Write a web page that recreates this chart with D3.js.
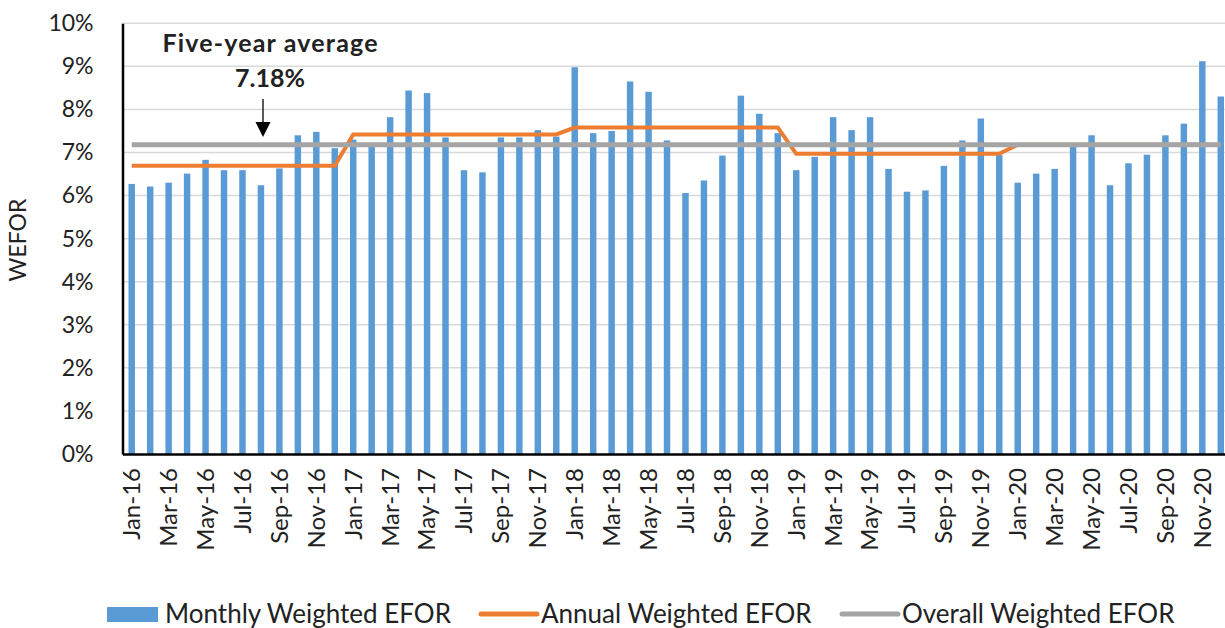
<!DOCTYPE html>
<html>
<head>
<meta charset="utf-8">
<style>
body { margin: 0; background: #fff; overflow: hidden; }
text { font-family: Lato, "Noto Sans", sans-serif; fill: #222; }
</style>
</head>
<body>
<script src="https://d3js.org/d3.v7.min.js"></script>
<script>

// months Jan-16 .. Dec-20
var monthNames = ["Jan","Feb","Mar","Apr","May","Jun","Jul","Aug","Sep","Oct","Nov","Dec"];
var years = ["16","17","18","19","20"];
var months = [];
years.forEach(y => monthNames.forEach(m => months.push(m + "-" + y)));

// monthly weighted EFOR (%)
var monthly = [
	6.27, 6.21, 6.30, 6.51, 6.83, 6.59, 6.59, 6.24, 6.63, 7.40, 7.48, 7.10,
	7.30, 7.13, 7.82, 8.44, 8.38, 7.35, 6.59, 6.54, 7.35, 7.35, 7.52, 7.37,
	8.98, 7.45, 7.50, 8.65, 8.41, 7.28, 6.06, 6.35, 6.93, 8.32, 7.90, 7.45,
	6.59, 6.90, 7.82, 7.52, 7.82, 6.62, 6.09, 6.12, 6.69, 7.28, 7.79, 6.94,
	6.30, 6.51, 6.62, 7.13, 7.40, 6.24, 6.75, 6.95, 7.40, 7.67, 9.12, 8.30
];

// annual weighted EFOR (%), one value per year
var annual = [6.69, 7.42, 7.58, 6.97, 7.18];

// overall five-year weighted EFOR (%)
var overall = 7.18;

var yTicks = [0,1,2,3,4,5,6,7,8,9,10];

var data = months.map((m, i) => ({
	month: m,
	monthly: monthly[i],
	annual: annual[Math.floor(i / 12)],
	overall: overall
}));

var W = 1225, H = 628;
var margin = { top: 23.3, left: 122.5, bottom: 174, right: -5 };
var width = W - margin.left - margin.right,
	height = H - margin.top - margin.bottom;

var svg = d3.select("body").append("svg")
	.attr("width", W)
	.attr("height", H);

var g = svg.append("g")
	.attr("transform", "translate(" + margin.left + "," + margin.top + ")");

var x = d3.scaleBand()
	.domain(months)
	.range([0, width])
	.paddingInner(0.65)
	.paddingOuter(0.325);

var y = d3.scaleLinear()
	.domain([0, 10])
	.range([height, 0]);

// gridlines
g.append("g").selectAll("line")
	.data(yTicks.filter(d => d > 0))
  .enter().append("line")
	.attr("x1", 0)
	.attr("x2", width)
	.attr("y1", d => y(d))
	.attr("y2", d => y(d))
	.attr("stroke", "#d9d9d9")
	.attr("stroke-width", 1.5);

// bars
g.append("g").selectAll("rect")
	.data(data)
  .enter().append("rect")
	.attr("x", d => x(d.month))
	.attr("y", d => y(d.monthly))
	.attr("width", x.bandwidth())
	.attr("height", d => height - y(d.monthly))
	.attr("fill", "#5b9bd5");

var cx = d => x(d.month) + x.bandwidth() / 2;

g.append("path")
	.datum(data)
	.attr("fill", "none")
	.attr("stroke", "#ed7d31")
	.attr("stroke-width", 4)
	.attr("d", d3.line().x(cx).y(d => y(d.annual)));

g.append("path")
	.datum(data)
	.attr("fill", "none")
	.attr("stroke", "#a5a5a5")
	.attr("stroke-width", 5)
	.attr("d", d3.line().x(cx).y(d => y(d.overall)));

// y axis
var yAxis = g.append("g")
	.call(d3.axisLeft(y).tickValues(yTicks).tickFormat(d => d + "%").tickSize(0).tickPadding(29));
yAxis.select(".domain").attr("stroke", "#000").attr("stroke-width", 2.5);
yAxis.selectAll("text").attr("font-size", 23).style("font-family", "Lato").attr("fill", "#222");

// x axis
var xAxis = g.append("g")
	.attr("transform", "translate(0," + height + ")")
	.call(d3.axisBottom(x).tickValues(months.filter((m, i) => i % 2 == 0)).tickSize(0).tickPadding(0));
xAxis.select(".domain").attr("stroke", "#000").attr("stroke-width", 2.5);
xAxis.selectAll("text")
	.attr("font-size", 24)
	.style("font-family", "Lato")
	.attr("fill", "#222")
	.attr("transform", "rotate(-90)")
	.attr("text-anchor", "end")
	.attr("dy", "0.35em")
	.attr("x", -14)
	.attr("y", 0);

// y title
svg.append("text")
	.attr("transform", "translate(26,240) rotate(-90)")
	.attr("text-anchor", "middle")
	.attr("font-size", 23)
	.text("WEFOR");

// annotation
svg.append("text")
	.attr("x", 270)
	.attr("y", 52)
	.attr("text-anchor", "middle")
	.attr("font-size", 25)
	.attr("font-weight", "bold")
	.attr("textLength", 215)
	.text("Five-year average");

svg.append("text")
	.attr("x", 270)
	.attr("y", 87)
	.attr("text-anchor", "middle")
	.attr("font-size", 25)
	.attr("font-weight", "bold")
	.text(overall.toFixed(2) + "%");

svg.append("line")
	.attr("x1", 263).attr("x2", 263)
	.attr("y1", 99).attr("y2", 123)
	.attr("stroke", "#000").attr("stroke-width", 1.3);
svg.append("path")
	.attr("d", "M255.5,122 L270.5,122 L263,137 Z")
	.attr("fill", "#000");

// legend
var legend = [
	{ name: "Monthly Weighted EFOR", color: "#5b9bd5", type: "rect", x: 107 },
	{ name: "Annual Weighted EFOR", color: "#ed7d31", type: "line", x: 481 },
	{ name: "Overall Weighted EFOR", color: "#a5a5a5", type: "line", x: 842 }
];
var lg = svg.append("g").selectAll("g")
	.data(legend)
  .enter().append("g")
	.attr("transform", d => "translate(" + d.x + ",614)");
lg.filter(d => d.type == "rect").append("rect")
	.attr("x", 0).attr("y", -7).attr("width", 51).attr("height", 15)
	.attr("fill", d => d.color);
lg.filter(d => d.type == "line").append("line")
	.attr("x1", 0).attr("x2", 56).attr("y1", 0).attr("y2", 0)
	.attr("stroke", d => d.color).attr("stroke-width", 5).attr("stroke-linecap", "round");
lg.append("text")
	.attr("x", d => d.type == "rect" ? 58 : 60)
	.attr("y", 9)
	.attr("font-size", 26)
	.text(d => d.name);

</script>
</body>
</html>
